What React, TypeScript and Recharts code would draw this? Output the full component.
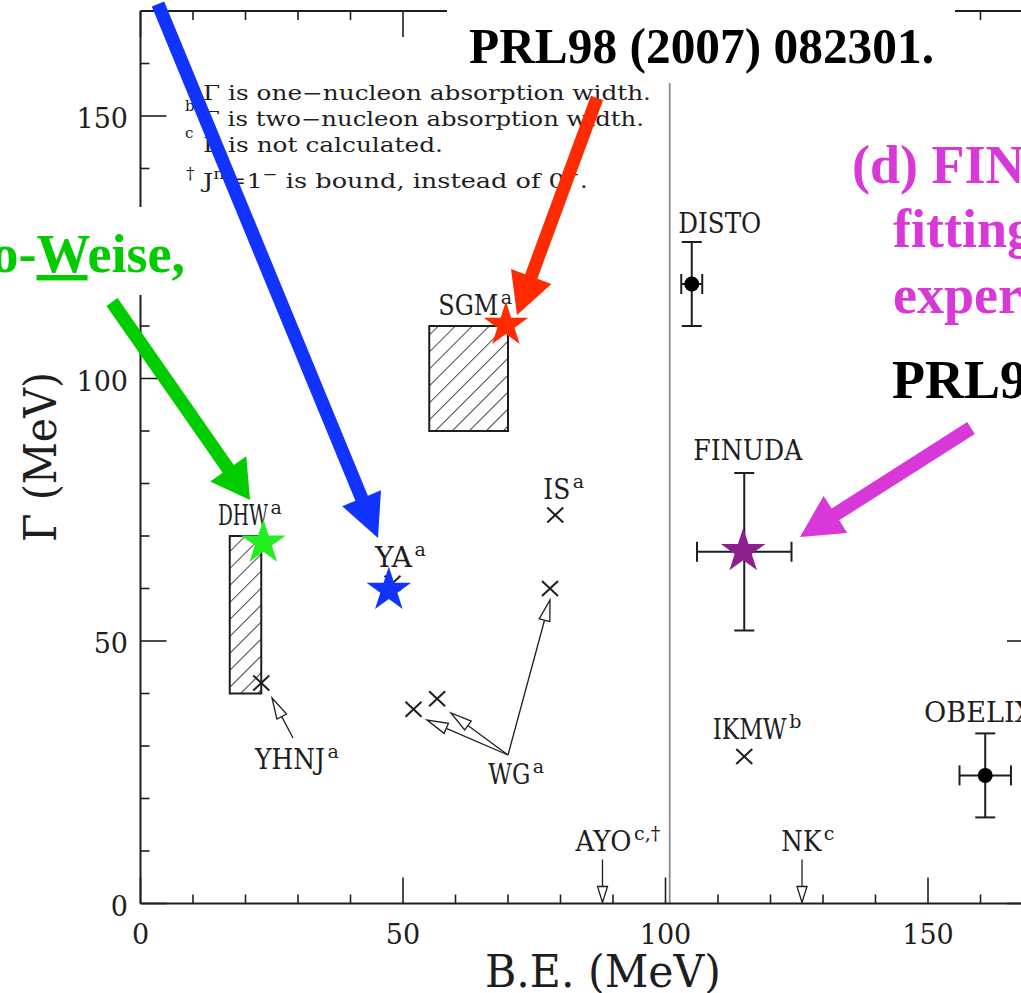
import React from 'react';
import { ScatterChart, Scatter, XAxis, YAxis, ReferenceLine, ReferenceArea, ErrorBar } from 'recharts';

// values, B.E. and Γ in MeV
const calcNames = ['YHNJ', 'YA', 'IS', 'WG', 'WG', 'WG', 'IKMW'];
const calcBE = [23, 48, 79, 78, 52, 56.5, 115];
const calcGamma = [42, 61, 74, 60, 37, 39, 28];

const bandNames = ['DHW', 'SGM'];
const bandBE = [[17, 23], [55, 70]];
const bandGamma = [[40, 70], [90, 110]];

const expNames = ['DISTO', 'OBELIX', 'FINUDA'];
const expBE = [105, 160.9, 115];
const expBEErr = [2, 4.9, 9];
const expGamma = [118, 24.4, 67];
const expGammaErr = [8, 8, 15];

const noGammaNames = ['AYO', 'NK'];
const noGammaBE = [88, 126];

const starNames = ['DHW', 'YA', 'SGM', 'FINUDA'];
const starBE = [23.4, 47.3, 69.6, 114.8];
const starGamma = [68.7, 59.7, 110.2, 67.1];

const labelText = ['DHW', 'YHNJ', 'YA', 'IS', 'WG', 'SGM', 'DISTO', 'FINUDA', 'IKMW', 'OBELIX', 'AYO', 'NK'];
const labelSup = ['a', 'a', 'a', 'a', 'a', 'a', '', '', 'b', '', 'c,†', 'c'];
const labelBE = [14.76, 21.81, 44.67, 76.72, 66.25, 56.72, 102.44, 105.3, 108.99, 149.24, 82.86, 122.06];
const labelGamma = [72.19, 25.66, 64.06, 77.09, 22.8, 112.19, 127.68, 84.57, 31.37, 34.53, 9.96, 9.96];

const axisTicks = [0, 10, 20, 30, 40, 50, 60, 70, 80, 90, 100, 110, 120, 130, 140, 150, 160, 170];
const labelledTicks = [0, 50, 100, 150];
const separatorBE = 100.8;

// layout
const LEFT = 140.5;
const TOP = 11;
const PLOT = 892.5;
const CHART_W = 1080;
const CHART_H = 1000;
const AXIS_W = 40;
const AXIS_H = 40;
const INK = '#1e1e1e';
const SERIF = '"DejaVu Serif", serif';
const TIMES = '"Liberation Serif", "Times New Roman", serif';
const labelPx: Record<string, number> = {
  DHW: 50, YHNJ: 70, YA: 37, IS: 27, WG: 42, SGM: 60, DISTO: 83, FINUDA: 109, IKMW: 74, OBELIX: 110, AYO: 56, NK: 40,
};
const starColor: Record<string, string> = { DHW: '#22ee22', YA: '#1133ff', SGM: '#ff2a00', FINUDA: '#8e1f8e' };

const calcPoints = calcNames.map((name, i) => ({ name, x: calcBE[i], y: calcGamma[i] }));
const expPoints = expNames.map((name, i) => ({ name, x: expBE[i], y: expGamma[i], xErr: expBEErr[i], yErr: expGammaErr[i] }));
const noGammaPoints = noGammaNames.map((name, i) => ({ name, x: noGammaBE[i], y: 0 }));
const starPoints = starNames.map((name, i) => ({ name, x: starBE[i], y: starGamma[i] }));
const labelPoints = labelText.map((name, i) => ({ name, sup: labelSup[i], x: labelBE[i], y: labelGamma[i] }));

const XTick = ({ x, y, payload }: any) => {
  const major = labelledTicks.includes(payload.value);
  const len = major ? 26 : 9;
  return (
    <g>
      <line x1={x} y1={y} x2={x} y2={y - len} stroke={INK} strokeWidth={1.6} />
      <line x1={x} y1={y - PLOT} x2={x} y2={y - PLOT + len} stroke={INK} strokeWidth={1.6} />
      {major && (
        <text x={x} y={y + 40} textAnchor="middle" fontFamily={SERIF} fontSize={27} fill={INK}>
          {payload.value}
        </text>
      )}
    </g>
  );
};

const YTick = ({ x, y, payload }: any) => {
  const major = labelledTicks.includes(payload.value);
  const len = major ? 26 : 9;
  return (
    <g>
      <line x1={x} y1={y} x2={x + len} y2={y} stroke={INK} strokeWidth={1.6} />
      <line x1={x + PLOT} y1={y} x2={x + PLOT - len} y2={y} stroke={INK} strokeWidth={1.6} />
      {major && (
        <text x={x - 12.5} y={y + 12} textAnchor="end" fontFamily={SERIF} fontSize={27} fill={INK}>
          {payload.value}
        </text>
      )}
    </g>
  );
};

const Cross = ({ cx, cy }: any) => (
  <g stroke={INK} strokeWidth={2}>
    <line x1={cx - 8} y1={cy - 7.5} x2={cx + 8} y2={cy + 7.5} />
    <line x1={cx - 8} y1={cy + 7.5} x2={cx + 8} y2={cy - 7.5} />
  </g>
);

const ExpDot = ({ cx, cy, payload }: any) =>
  starNames.includes(payload.name) ? <g /> : <circle cx={cx} cy={cy} r={7.5} fill="#000" />;

const DownArrow = ({ cx, cy }: any) => (
  <g stroke={INK} strokeWidth={1.3}>
    <line x1={cx} y1={cy - 44} x2={cx} y2={cy - 17} />
    <polygon points={`${cx - 5},${cy - 17} ${cx + 5},${cy - 17} ${cx},${cy - 1}`} fill="#fff" />
  </g>
);

const starPath = (cx: number, cy: number, R: number) => {
  const pts: string[] = [];
  for (let i = 0; i < 10; i++) {
    const rad = i % 2 === 0 ? R : R * 0.382;
    const a = -Math.PI / 2 + (i * Math.PI) / 5;
    pts.push(`${(cx + rad * Math.cos(a)).toFixed(2)},${(cy + rad * Math.sin(a)).toFixed(2)}`);
  }
  return 'M' + pts.join('L') + 'Z';
};

const Star = ({ cx, cy, payload }: any) => <path d={starPath(cx, cy, 23.5)} fill={starColor[payload.name]} />;

const PointLabel = ({ cx, cy, payload }: any) => {
  const w = labelPx[payload.name];
  return (
    <g fontFamily={SERIF} fill={INK}>
      <text x={cx} y={cy} fontSize={28} textLength={w} lengthAdjust="spacingAndGlyphs">
        {payload.name}
      </text>
      {payload.sup && (
        <text x={cx + w + 2.5} y={cy - 11} fontSize={19}>
          {payload.sup}
        </text>
      )}
    </g>
  );
};

// big coloured arrows and other slide annotations, in page pixels
const arrowPoints = (sx: number, sy: number, tx: number, ty: number, w: number, L: number, H: number) => {
  const len = Math.hypot(tx - sx, ty - sy);
  const ux = (tx - sx) / len;
  const uy = (ty - sy) / len;
  const nx = -uy;
  const ny = ux;
  const bx = tx - ux * L;
  const by = ty - uy * L;
  const h = w / 2;
  return [
    [sx + nx * h, sy + ny * h],
    [bx + nx * h, by + ny * h],
    [bx + nx * H, by + ny * H],
    [tx, ty],
    [bx - nx * H, by - ny * H],
    [bx - nx * h, by - ny * h],
    [sx - nx * h, sy - ny * h],
  ]
    .map((p) => p.map((v) => v.toFixed(1)).join(','))
    .join(' ');
};

const ThinArrow = ({ sx, sy, tx, ty }: { sx: number; sy: number; tx: number; ty: number }) => {
  const len = Math.hypot(tx - sx, ty - sy);
  const ux = (tx - sx) / len;
  const uy = (ty - sy) / len;
  const L = 21;
  const H = 5.5;
  const bx = tx - ux * L;
  const by = ty - uy * L;
  return (
    <g stroke={INK} strokeWidth={1.3}>
      <line x1={sx} y1={sy} x2={bx} y2={by} />
      <polygon
        points={`${bx - uy * H},${by + ux * H} ${bx + uy * H},${by - ux * H} ${tx},${ty}`}
        fill="#fff"
      />
    </g>
  );
};

const Overlay = () => (
  <svg width={1021} height={993} style={{ position: 'absolute', left: 0, top: 0, pointerEvents: 'none' }}>
    {/* footnotes */}
    <g fontFamily={SERIF} fill={INK}>
      <text x={185} y={86} fontSize={15}>a</text>
      <text x={203} y={99.5} fontSize={20} textLength={448} lengthAdjust="spacingAndGlyphs">
        Γ is one−nucleon absorption width.
      </text>
      <text x={185} y={111} fontSize={15}>b</text>
      <text x={203} y={125.5} fontSize={20} textLength={441} lengthAdjust="spacingAndGlyphs">
        Γ is two−nucleon absorption width.
      </text>
      <text x={185} y={138} fontSize={15}>c</text>
      <text x={203} y={152} fontSize={20} textLength={240} lengthAdjust="spacingAndGlyphs">
        Γ is not calculated.
      </text>
      <text x={186} y={179} fontSize={17}>†</text>
      <text x={203} y={188} fontSize={20} textLength={385} lengthAdjust="spacingAndGlyphs">
        J<tspan dy={-9} fontSize={14}>π</tspan>
        <tspan dy={9}>=1</tspan>
        <tspan dy={-9} fontSize={14}>−</tspan>
        <tspan dy={9}> is bound, instead of 0</tspan>
        <tspan dy={-9} fontSize={14}>−</tspan>
        <tspan dy={9}>.</tspan>
      </text>
    </g>

    {/* axis titles */}
    <text x={603} y={987} textAnchor="middle" fontFamily={SERIF} fontSize={44} fill={INK} textLength={236} lengthAdjust="spacingAndGlyphs">
      B.E. (MeV)
    </text>
    <text
      transform="translate(56,457) rotate(-90)"
      textAnchor="middle"
      fontFamily={SERIF}
      fontSize={44}
      fill={INK}
      textLength={170}
      lengthAdjust="spacingAndGlyphs"
    >
      Γ (MeV)
    </text>

    {/* slide text */}
    <rect x={447} y={0} width={508} height={83} fill="#fff" />
    <text x={469} y={63} fontFamily={TIMES} fontWeight="bold" fontSize={50} fill="#000" textLength={465} lengthAdjust="spacingAndGlyphs">
      PRL98 (2007) 082301.
    </text>

    <rect x={0} y={207} width={192} height={88} fill="#fff" />
    <text x={185} y={272} textAnchor="end" fontFamily={TIMES} fontWeight="bold" fontSize={54} fill="#00cc00">
      <tspan style={{ textDecoration: 'underline' }}>D</tspan>ote-<tspan style={{ textDecoration: 'underline' }}>H</tspan>yodo-
      <tspan style={{ textDecoration: 'underline' }}>W</tspan>eise,
    </text>

    <rect x={845} y={95} width={176} height={320} fill="#fff" />
    <g fontFamily={TIMES} fontWeight="bold" fontSize={54}>
      <text x={852} y={183} fill="#d838d8">(d) FINUDA data</text>
      <text x={893} y={247} fill="#d838d8">fitting to</text>
      <text x={893} y={313} fill="#d838d8">experiment</text>
      <text x={892} y={398} fill="#000">PRL94 (2005) 212303.</text>
    </g>

    {/* thin pointer arrows */}
    <ThinArrow sx={293} sy={738} tx={272} ty={698} />
    <ThinArrow sx={508} sy={755} tx={550} ty={600} />
    <ThinArrow sx={508} sy={755} tx={427} ty={720} />
    <ThinArrow sx={508} sy={755} tx={451} ty={713} />

    {/* coloured arrows */}
    <polygon points={arrowPoints(158, 4, 378, 538, 13.5, 43, 21)} fill="#1133ff" />
    <polygon points={arrowPoints(112, 302, 250, 500, 13.5, 38, 22)} fill="#00cc00" />
    <polygon points={arrowPoints(597, 98, 517, 315, 13, 41, 21.5)} fill="#ff2a00" />
    <polygon points={arrowPoints(971, 428, 800, 537, 14, 42, 22)} fill="#d838d8" />
  </svg>
);

export default function App() {
  return (
    <div style={{ position: 'absolute', left: 0, top: 0, width: 1021, height: 993, overflow: 'hidden', background: '#fff' }}>
      <ScatterChart
        width={CHART_W}
        height={CHART_H}
        margin={{
          top: TOP,
          left: LEFT - AXIS_W,
          right: CHART_W - LEFT - PLOT,
          bottom: CHART_H - TOP - PLOT - AXIS_H,
        }}
      >
        <defs>
          <pattern id="hatch" width={12} height={12} patternUnits="userSpaceOnUse" patternTransform="rotate(45)">
            <line x1={0} y1={0} x2={0} y2={12} stroke={INK} strokeWidth={1.6} />
          </pattern>
        </defs>
        <XAxis
          type="number"
          dataKey="x"
          domain={[0, 170]}
          ticks={axisTicks}
          interval={0}
          allowDataOverflow
          height={AXIS_H}
          tickSize={0}
          tickMargin={0}
          tickLine={false}
          axisLine={{ stroke: INK, strokeWidth: 2 }}
          tick={XTick}
        />
        <YAxis
          type="number"
          dataKey="y"
          domain={[0, 170]}
          ticks={axisTicks}
          interval={0}
          allowDataOverflow
          width={AXIS_W}
          tickSize={0}
          tickMargin={0}
          tickLine={false}
          axisLine={{ stroke: INK, strokeWidth: 2 }}
          tick={YTick}
        />
        <ReferenceLine y={170} stroke={INK} strokeWidth={2} />
        <ReferenceLine x={170} stroke={INK} strokeWidth={2} />
        <ReferenceLine x={separatorBE} stroke="#8a8a8a" strokeWidth={1.8} />
        {bandNames.map((name, i) => (
          <ReferenceArea
            key={name}
            x1={bandBE[i][0]}
            x2={bandBE[i][1]}
            y1={bandGamma[i][0]}
            y2={bandGamma[i][1]}
            fill="url(#hatch)"
            fillOpacity={1}
            stroke={INK}
            strokeWidth={2}
          />
        ))}
        <Scatter data={calcPoints} shape={Cross} isAnimationActive={false} />
        <Scatter data={expPoints} shape={ExpDot} isAnimationActive={false}>
          <ErrorBar dataKey="xErr" direction="x" width={10} stroke={INK} strokeWidth={2} isAnimationActive={false} />
          <ErrorBar dataKey="yErr" direction="y" width={10} stroke={INK} strokeWidth={2} isAnimationActive={false} />
        </Scatter>
        <Scatter data={noGammaPoints} shape={DownArrow} isAnimationActive={false} />
        <Scatter data={labelPoints} shape={PointLabel} isAnimationActive={false} />
        <Scatter data={starPoints} shape={Star} isAnimationActive={false} />
      </ScatterChart>
      <Overlay />
    </div>
  );
}
